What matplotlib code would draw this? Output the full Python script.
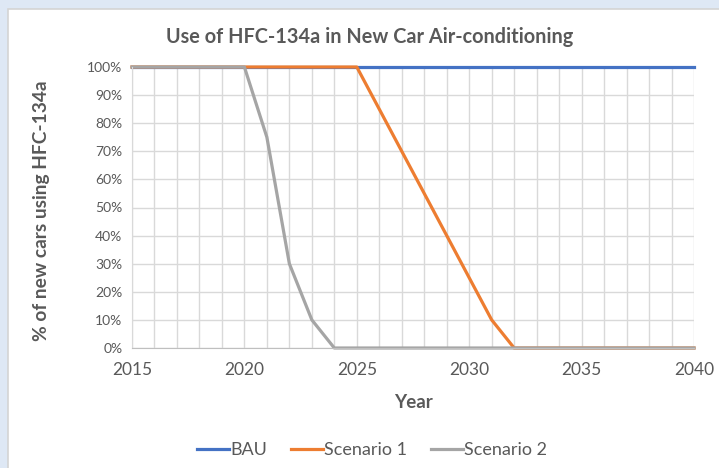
import matplotlib.pyplot as plt
from matplotlib.patches import Rectangle
from matplotlib.ticker import MultipleLocator, FuncFormatter

plt.rcParams['font.family'] = ['Lato', 'DejaVu Sans']

# Data
years = list(range(2015, 2041))
bau = [100] * len(years)
scenario1 = [100] * 11 + [85, 70, 55, 40, 25, 10, 0] + [0] * 8
scenario2 = [100] * 6 + [75, 30, 10, 0] + [0] * 16

text_col = '#595959'

fig = plt.figure(figsize=(7.19, 4.68), dpi=100)
fig.patch.set_facecolor('#DEE8F5')
# white chart panel with a thin grey border
fig.patches.append(Rectangle((8 / 719, -0.1), 1.1, 1 - 9 / 468 + 0.1,
                             transform=fig.transFigure, facecolor='white',
                             edgecolor='#D4D4D4', linewidth=1.2, zorder=-10))

ax = fig.add_axes([132 / 719, 1 - 348 / 468, 562 / 719, 281 / 468])
ax.set_facecolor('white')

ax.plot(years, bau, color='#4472C4', lw=2.3, label='BAU', clip_on=False)
ax.plot(years, scenario1, color='#ED7D31', lw=2.3, label='Scenario 1', clip_on=False)
ax.plot(years, scenario2, color='#A5A5A5', lw=2.3, label='Scenario 2', clip_on=False)

ax.set_xlim(2015, 2040)
ax.set_ylim(0, 100)
ax.xaxis.set_major_locator(MultipleLocator(5))
ax.xaxis.set_minor_locator(MultipleLocator(1))
ax.yaxis.set_major_locator(MultipleLocator(10))
ax.yaxis.set_major_formatter(FuncFormatter(lambda v, p: f'{v:.0f}%'))

ax.grid(which='both', color='#D9D9D9', lw=1)
ax.set_axisbelow(True)
ax.tick_params(which='both', length=0)
ax.tick_params(axis='x', labelsize=12.5, colors=text_col, pad=10)
ax.tick_params(axis='y', labelsize=10, colors=text_col, pad=7)
for s in ['top', 'right']:
    ax.spines[s].set_visible(False)
ax.spines['left'].set_color('#D9D9D9')
ax.spines['bottom'].set_color('#BFBFBF')

fig.text(370 / 719, 1 - 37 / 468, 'Use of HFC-134a in New Car Air-conditioning',
         fontsize=14.3, color=text_col, fontweight='bold', ha='center', va='center')
ax.set_xlabel('Year', fontsize=13.5, fontweight='bold', color=text_col)
ax.xaxis.set_label_coords(0.5, -(403 - 348) / 281, transform=ax.transAxes)
ax.xaxis.label.set_va('center')
ax.set_ylabel('% of new cars using HFC-134a', fontsize=13.8, fontweight='bold',
              color=text_col)
ax.yaxis.set_label_coords(-(132 - 42) / 562, (348 - 211) / 281)
ax.yaxis.label.set_va('center')

leg = fig.legend(loc='center', bbox_to_anchor=(372 / 719, 1 - 450 / 468), ncol=3,
                 frameon=False, fontsize=13, handlelength=1.8, handletextpad=0.05,
                 columnspacing=1.3)
for t in leg.get_texts():
    t.set_color(text_col)

fig.savefig('out.png', dpi=100)
